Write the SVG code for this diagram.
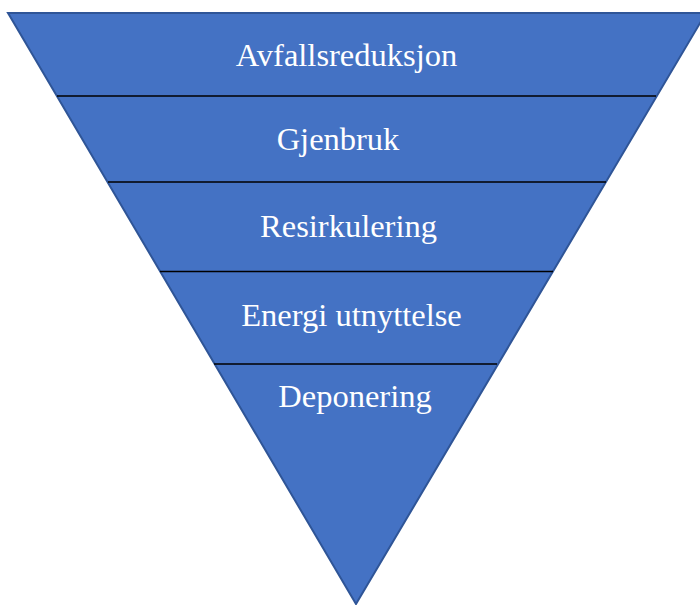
<svg xmlns="http://www.w3.org/2000/svg" width="700" height="605" viewBox="0 0 700 605">
<style>
.tri{fill:#4472c4;stroke:#2f5597;stroke-width:2}
.sep{stroke:#000;stroke-width:1.5}
.lbl{font-family:"Liberation Serif","Times New Roman",serif;font-size:32.5px;fill:#fff;text-anchor:middle}
</style>
<rect width="700" height="605" fill="#fff"/>
<g id="pyramid">
<polygon class="tri" points="8,13 706,13 356,604"/>
</g>
<g id="connectors">
<line class="sep" x1="57" y1="96" x2="656" y2="96"/>
<line class="sep" x1="108" y1="182" x2="606" y2="182"/>
<line class="sep" x1="160" y1="271.5" x2="553" y2="271.5"/>
<line class="sep" x1="214" y1="364" x2="497" y2="364"/>
</g>
<g id="n1"><text class="lbl" x="346.5" y="65.5">Avfallsreduksjon</text></g>
<g id="n2"><text class="lbl" x="338" y="150">Gjenbruk</text></g>
<g id="n3"><text class="lbl" x="348.5" y="237">Resirkulering</text></g>
<g id="n4"><text class="lbl" x="351.5" y="325.5">Energi utnyttelse</text></g>
<g id="n5"><text class="lbl" x="355" y="407">Deponering</text></g>
</svg>
